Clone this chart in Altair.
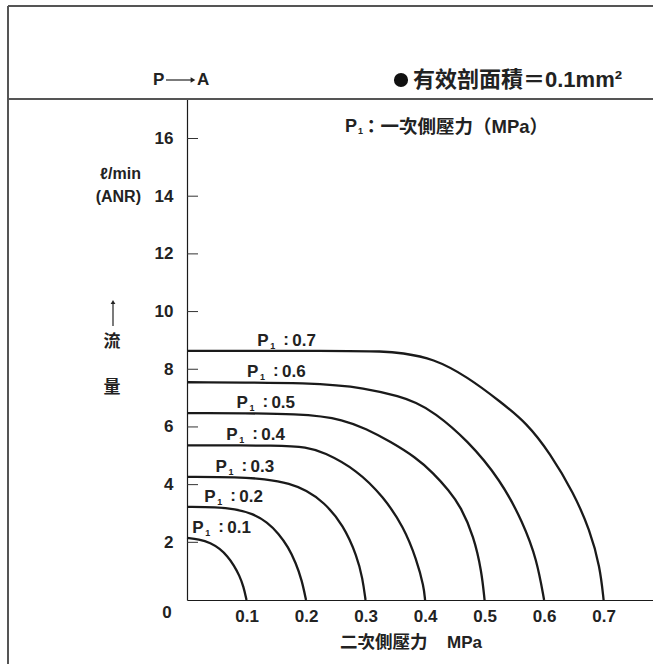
import altair as alt
import pandas as pd

# Primary pressure levels P1 (MPa)
P1_LEVELS = [0.1, 0.2, 0.3, 0.4, 0.5, 0.6, 0.7]

# Flow curves: secondary pressure (MPa) -> flow (l/min ANR)
CURVE_X = {
    0.1: [0, 0.02, 0.04, 0.055, 0.068, 0.079, 0.088, 0.095, 0.1],
    0.2: [0, 0.05, 0.08, 0.11, 0.135, 0.154, 0.17, 0.183, 0.193, 0.2],
    0.3: [0, 0.087, 0.13, 0.174, 0.2, 0.229, 0.263, 0.286, 0.295, 0.3],
    0.4: [0, 0.16, 0.2, 0.229, 0.286, 0.33, 0.364, 0.386, 0.398, 0.4],
    0.5: [0, 0.204, 0.263, 0.3, 0.342, 0.384, 0.414, 0.44, 0.46, 0.482, 0.495, 0.5],
    0.6: [0, 0.216, 0.3, 0.359, 0.384, 0.414, 0.471, 0.527, 0.565, 0.588, 0.6],
    0.7: [0, 0.25, 0.333, 0.359, 0.414, 0.471, 0.527, 0.571, 0.61, 0.65, 0.677, 0.694, 0.7],
}
CURVE_Y = {
    0.1: [2.15, 2.11, 1.98, 1.78, 1.52, 1.2, 0.85, 0.47, 0],
    0.2: [3.23, 3.22, 3.16, 3.0, 2.7, 2.3, 1.84, 1.28, 0.69, 0],
    0.3: [4.27, 4.26, 4.2, 4.04, 3.8, 3.42, 2.6, 1.5, 0.75, 0],
    0.4: [5.36, 5.36, 5.3, 5.14, 4.5, 3.58, 2.54, 1.39, 0.46, 0],
    0.5: [6.48, 6.47, 6.24, 5.95, 5.49, 4.95, 4.4, 3.8, 3.24, 2.2, 1.0, 0],
    0.6: [7.55, 7.54, 7.35, 7.05, 6.85, 6.53, 5.55, 4.16, 2.67, 1.39, 0],
    0.7: [8.64, 8.64, 8.62, 8.57, 8.38, 7.74, 6.87, 6.13, 5.09, 3.7, 2.42, 1.15, 0],
}

# Where each "P1 : x" label starts along the secondary-pressure axis
LABEL_X = [0.009, 0.029, 0.048, 0.066, 0.083, 0.101, 0.118]

X_TICKS = [0.1, 0.2, 0.3, 0.4, 0.5, 0.6, 0.7]
Y_TICKS = [2, 4, 6, 8, 10, 12, 14, 16]

FONT = "Liberation Sans, Noto Sans CJK TC"
CJK = "Noto Sans CJK TC"
INK = "#1a1a1a"
FRAME = "#555555"

W, H = 466, 501
X_MAX, Y_MAX = 0.783, 17.37

rows = []
for p in P1_LEVELS:
    for i, (xv, yv) in enumerate(zip(CURVE_X[p], CURVE_Y[p])):
        rows.append({"p1": p, "i": i, "sec": xv, "flow": yv})
curves_df = pd.DataFrame(rows)

labels_df = pd.DataFrame({
    "p1": P1_LEVELS,
    "lx": LABEL_X,
    "q": [CURVE_Y[p][0] for p in P1_LEVELS],
    "val": [f"{p:.1f}" for p in P1_LEVELS],
})
ticks_df = pd.DataFrame({"t": Y_TICKS})

xs = alt.Scale(domain=[0, X_MAX], nice=False, zero=False)
ys = alt.Scale(domain=[0, Y_MAX], nice=False, zero=False)

x_axis = alt.Axis(values=X_TICKS, format=".1f", ticks=False, grid=False, title=None,
                  domainColor=INK, domainWidth=1.2, labelPadding=8,
                  labelFont=FONT, labelFontSize=17, labelFontWeight="bold",
                  labelColor="#222222")
y_axis = alt.Axis(values=Y_TICKS, format="d", ticks=False, grid=False, title=None,
                  domainColor=INK, domainWidth=1.2, labelPadding=14,
                  labelFont=FONT, labelFontSize=17, labelFontWeight="bold",
                  labelColor="#222222")

curves = alt.Chart(curves_df).mark_line(
    interpolate="basis", color=INK, strokeWidth=2.3
).encode(
    x=alt.X("sec:Q", scale=xs, axis=x_axis),
    y=alt.Y("flow:Q", scale=ys, axis=y_axis),
    detail="p1:N",
    order="i:Q",
)

inner_ticks = alt.Chart(ticks_df).mark_rule(color="#333333", strokeWidth=1).encode(
    y=alt.Y("t:Q", scale=ys),
    x=alt.value(0),
    x2=alt.value(11),
)

def lab(text_enc, dx, dy, size):
    return alt.Chart(labels_df).mark_text(
        align="left", baseline="alphabetic", dx=dx, dy=dy,
        font=FONT, fontSize=size, fontWeight="bold", color="#222222",
    ).encode(
        x=alt.X("lx:Q", scale=xs),
        y=alt.Y("q:Q", scale=ys),
        text=text_enc,
    )

lab_p = lab(alt.value("P"), 0, -5, 17)
lab_sub = lab(alt.value("1"), 13, -2, 9)
lab_colon = lab(alt.value(":"), 26, -6, 17)
lab_val = lab(alt.Text("val:N"), 35, -5, 17)

one = alt.Data(values=[{"k": 0}])

def rule(x1, x2, y1, y2, color=FRAME, width=2):
    return alt.Chart(one).mark_rule(color=color, strokeWidth=width).encode(
        x=alt.value(x1), x2=alt.value(x2), y=alt.value(y1), y2=alt.value(y2))

def txt(s, x, y, size=17, align="left", weight="bold", font=FONT, baseline="middle"):
    return alt.Chart(one).mark_text(
        text=s, align=align, baseline=baseline, font=font, fontSize=size,
        fontWeight=weight, color="#222222",
    ).encode(x=alt.value(x), y=alt.value(y))

def tri(x, y, shape, size):
    return alt.Chart(one).mark_point(
        shape=shape, filled=True, color="#222222", size=size, opacity=1
    ).encode(x=alt.value(x), y=alt.value(y))

# Frame around the figure and header divider
frame = [
    rule(-179, -179, -93, 565),
    rule(-179, W, -93, -93),
    rule(-179, W, 0, 0),
]

# Header: flow direction and effective area
header = [
    txt("P", -34, -19, 17),
    rule(-21, 4, -19, -19, color="#222222", width=1.2),
    tri(6, -19, "triangle-right", 30),
    txt("A", 10, -19, 17),
    alt.Chart(one).mark_point(shape="circle", filled=True, color="#111111", size=200, opacity=1)
      .encode(x=alt.value(214), y=alt.value(-19)),
    txt("有效剖面積＝0.1mm²", 226, -19, 22),
    txt("P", 158, 28, 18),
    txt("1", 171, 32, 9),
    txt("：一次側壓力（MPa）", 175, 28, 18.5),
]

# Y-axis title pieces
ytitle = [
    txt("ℓ/min", -46, 75, 16, align="right"),
    txt("(ANR)", -46, 98, 16, align="right"),
    rule(-74, -74, 203, 227, color="#222222", width=1.2),
    tri(-74, 203, "triangle-up", 22),
    txt("流", -75, 243, 17, align="center", font=CJK),
    txt("量", -75, 289, 17, align="center", font=CJK),
    txt("0", -20, 514, 17, align="center"),
]

xtitle = [
    txt("二次側壓力", 153, 544, 17.5),
    txt("MPa", 260, 544, 17),
]

chart = alt.layer(
    curves, inner_ticks, lab_p, lab_sub, lab_colon, lab_val,
    *frame, *header, *ytitle, *xtitle,
).properties(
    width=W, height=H,
    padding={"left": 187, "top": 99, "right": 0, "bottom": 64},
    autosize=alt.AutoSizeParams(type="none"),
    background="white",
).configure_view(stroke=None)

chart.save("out.html", embed_options={"renderer": "svg", "actions": False})
